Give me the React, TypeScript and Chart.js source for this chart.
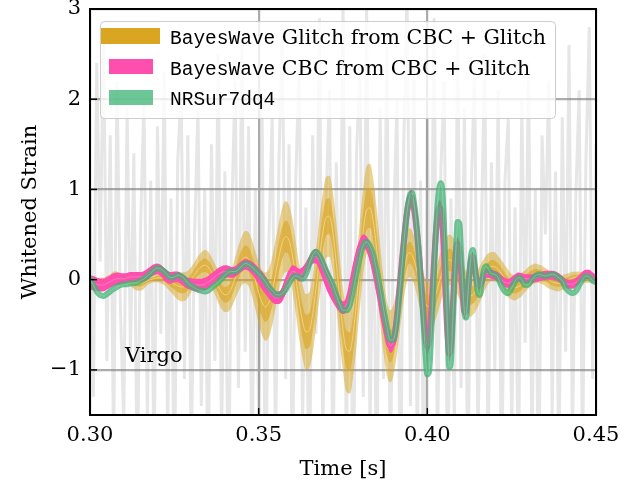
import React, { useEffect, useRef } from 'react';
import { Chart, registerables } from 'chart.js';

Chart.register(...registerables);

// ---------------- data ----------------
// sample times (s) for the reconstructed waveforms
const modelTime = [
  0.300, 0.301, 0.302, 0.303, 0.304, 0.305, 0.306, 0.307, 0.308, 0.309,
  0.310, 0.311, 0.312, 0.313, 0.314, 0.315, 0.316, 0.317, 0.318, 0.319,
  0.320, 0.321, 0.322, 0.323, 0.324, 0.325, 0.326, 0.327, 0.328, 0.329,
  0.330, 0.331, 0.332, 0.333, 0.334, 0.335, 0.336, 0.337, 0.338, 0.339,
  0.340, 0.341, 0.342, 0.343, 0.344, 0.345, 0.346, 0.347, 0.348, 0.349,
  0.350, 0.351, 0.352, 0.353, 0.354, 0.355, 0.356, 0.357, 0.358, 0.359,
  0.360, 0.361, 0.362, 0.363, 0.364, 0.365, 0.366, 0.367, 0.368, 0.369,
  0.370, 0.371, 0.372, 0.373, 0.374, 0.375, 0.376, 0.377, 0.378, 0.379,
  0.380, 0.381, 0.382, 0.383, 0.384, 0.385, 0.386, 0.387, 0.388, 0.389,
  0.390, 0.391, 0.392, 0.393,
  0.3935, 0.394, 0.3945, 0.395, 0.3955, 0.396, 0.3965, 0.397, 0.3975, 0.398,
  0.3985, 0.399, 0.3995, 0.400, 0.4005, 0.401, 0.4015, 0.402, 0.4025, 0.403,
  0.4035, 0.404, 0.4045, 0.405, 0.4055, 0.406, 0.4065, 0.407, 0.4075, 0.408,
  0.4085, 0.409, 0.4095, 0.410, 0.4105, 0.411, 0.4115, 0.412, 0.4125, 0.413,
  0.4135, 0.414, 0.4145, 0.415, 0.4155, 0.416, 0.4165, 0.417, 0.4175, 0.418,
  0.419, 0.420, 0.421, 0.422, 0.423, 0.424, 0.425, 0.426, 0.427, 0.428,
  0.429, 0.430, 0.431, 0.432, 0.433, 0.434, 0.435, 0.436, 0.437, 0.438,
  0.439, 0.440, 0.441, 0.442, 0.443, 0.444, 0.445, 0.446, 0.447, 0.448,
  0.449, 0.450,
];

// BayesWave glitch reconstruction: median and half-widths of the 90% / 50% bands
const glitchStrain = [
  0.0, 0.0, 0.0, 0.0, 0.0, 0.01, 0.02, 0.03, 0.03, 0.02,
  0.01, 0.0, -0.02, -0.03, -0.04, -0.04, -0.03, -0.01, 0.0, 0.01,
  0.02, 0.02, 0.01, -0.01, -0.03, -0.05, -0.07, -0.08, -0.077, -0.05,
  0.0, 0.055, 0.11, 0.145, 0.16, 0.14, 0.085, 0.007, -0.073, -0.136,
  -0.168, -0.155, -0.09, 0.012, 0.122, 0.209, 0.25, 0.226, 0.133, -0.003,
  -0.145, -0.254, -0.30, -0.259, -0.128, 0.06, 0.255, 0.408, 0.478, 0.437,
  0.272, 0.026, -0.241, -0.46, -0.579, -0.56, -0.386, -0.099, 0.229, 0.516,
  0.689, 0.703, 0.523, 0.191, -0.204, -0.557, -0.772, -0.792, -0.602, -0.25,
  0.168, 0.542, 0.77, 0.795, 0.634, 0.332, -0.041, -0.396, -0.649, -0.74,
  -0.663, -0.455, -0.177, 0.087,
  0.19, 0.262, 0.297, 0.296, 0.27, 0.224, 0.16, 0.083, 0.0, -0.083,
  -0.16, -0.224, -0.27, -0.296, -0.299, -0.284, -0.255, -0.212, -0.159, -0.098,
  -0.033, 0.03, 0.09, 0.141, 0.182, 0.208, 0.22, 0.216, 0.199, 0.17,
  0.132, 0.086, 0.035, -0.016, -0.065, -0.108, -0.143, -0.167, -0.179, -0.178,
  -0.168, -0.149, -0.123, -0.091, -0.054, -0.015, 0.024, 0.061, 0.093, 0.119,
  0.148, 0.143, 0.113, 0.064, 0.007, -0.044, -0.079, -0.09, -0.079, -0.051,
  -0.014, 0.024, 0.054, 0.069, 0.067, 0.052, 0.028, 0.002, -0.022, -0.037,
  -0.04, -0.032, -0.017, 0.001, 0.018, 0.028, 0.03, 0.025, 0.015, 0.005,
  0.0, 0.0,
];

const glitchOuterHalfWidth = [
  0.02, 0.02, 0.02, 0.02, 0.02, 0.03, 0.04, 0.06, 0.06, 0.05,
  0.04, 0.04, 0.05, 0.07, 0.08, 0.08, 0.07, 0.05, 0.04, 0.04,
  0.05, 0.06, 0.07, 0.09, 0.11, 0.13, 0.15, 0.16, 0.16, 0.15,
  0.14, 0.14, 0.15, 0.16, 0.17, 0.17, 0.17, 0.17, 0.18, 0.19,
  0.19, 0.2, 0.21, 0.23, 0.25, 0.27, 0.29, 0.3, 0.31, 0.32,
  0.34, 0.36, 0.38, 0.38, 0.38, 0.38, 0.38, 0.39, 0.39, 0.39,
  0.4, 0.4, 0.41, 0.41, 0.42, 0.42, 0.43, 0.43, 0.44, 0.44,
  0.45, 0.45, 0.45, 0.46, 0.46, 0.46, 0.47, 0.47, 0.47, 0.48,
  0.48, 0.48, 0.49, 0.49, 0.47, 0.45, 0.43, 0.42, 0.41, 0.40,
  0.39, 0.37, 0.34, 0.31,
  0.29, 0.28, 0.27, 0.27, 0.27, 0.27, 0.27, 0.27, 0.27, 0.27,
  0.27, 0.27, 0.28, 0.28, 0.28, 0.28, 0.28, 0.28, 0.28, 0.28,
  0.28, 0.28, 0.28, 0.28, 0.28, 0.28, 0.28, 0.28, 0.27, 0.27,
  0.26, 0.26, 0.25, 0.25, 0.24, 0.24, 0.23, 0.23, 0.23, 0.23,
  0.22, 0.22, 0.21, 0.21, 0.2, 0.2, 0.19, 0.18, 0.18, 0.17,
  0.16, 0.16, 0.15, 0.15, 0.15, 0.15, 0.14, 0.14, 0.13, 0.13,
  0.12, 0.12, 0.11, 0.11, 0.1, 0.1, 0.1, 0.1, 0.09, 0.09,
  0.09, 0.08, 0.08, 0.07, 0.07, 0.06, 0.06, 0.05, 0.05, 0.04,
  0.03, 0.03,
];

const glitchInnerHalfWidth = [
  0.012, 0.012, 0.012, 0.012, 0.012, 0.015, 0.02, 0.025, 0.025, 0.02,
  0.018, 0.018, 0.022, 0.03, 0.035, 0.035, 0.03, 0.022, 0.018, 0.018,
  0.022, 0.026, 0.03, 0.04, 0.05, 0.058, 0.066, 0.07, 0.07, 0.066,
  0.062, 0.062, 0.066, 0.07, 0.075, 0.075, 0.075, 0.075, 0.08, 0.085,
  0.085, 0.09, 0.095, 0.1, 0.11, 0.12, 0.13, 0.135, 0.14, 0.145,
  0.15, 0.16, 0.17, 0.17, 0.17, 0.17, 0.17, 0.175, 0.175, 0.175,
  0.18, 0.18, 0.185, 0.185, 0.19, 0.19, 0.195, 0.195, 0.2, 0.2,
  0.2, 0.2, 0.2, 0.21, 0.21, 0.21, 0.21, 0.21, 0.21, 0.215,
  0.215, 0.215, 0.22, 0.22, 0.21, 0.2, 0.195, 0.19, 0.185, 0.18,
  0.175, 0.165, 0.155, 0.14,
  0.13, 0.125, 0.12, 0.12, 0.12, 0.12, 0.12, 0.12, 0.12, 0.12,
  0.12, 0.12, 0.125, 0.125, 0.125, 0.125, 0.125, 0.125, 0.125, 0.125,
  0.125, 0.125, 0.125, 0.125, 0.125, 0.125, 0.125, 0.125, 0.12, 0.12,
  0.115, 0.115, 0.11, 0.11, 0.105, 0.105, 0.1, 0.1, 0.1, 0.1,
  0.1, 0.1, 0.095, 0.095, 0.09, 0.09, 0.085, 0.08, 0.08, 0.075,
  0.07, 0.07, 0.068, 0.068, 0.066, 0.066, 0.063, 0.063, 0.06, 0.06,
  0.055, 0.055, 0.05, 0.05, 0.045, 0.045, 0.045, 0.045, 0.04, 0.04,
  0.04, 0.036, 0.036, 0.032, 0.032, 0.027, 0.027, 0.022, 0.022, 0.018,
  0.014, 0.014,
];

// BayesWave CBC reconstruction: centre and half-width of the band
const cbcStrain = [
  -0.03, -0.04, -0.05, -0.06, -0.06, -0.04, -0.02, 0.0, 0.01, 0.01,
  0.01, 0.02, 0.03, 0.03, 0.03, 0.03, 0.04, 0.06, 0.09, 0.11,
  0.12, 0.10, 0.06, 0.03, 0.02, 0.03, 0.03, 0.01, -0.02, -0.04,
  -0.05, -0.06, -0.06, -0.06, -0.05, -0.03, 0.0, 0.03, 0.06, 0.08,
  0.09, 0.09, 0.08, 0.09, 0.12, 0.15, 0.17, 0.16, 0.13, 0.09,
  0.04, -0.01, -0.06, -0.12, -0.17, -0.20, -0.20, -0.16, -0.07, 0.03,
  0.09, 0.08, 0.05, 0.07, 0.12, 0.19, 0.25, 0.26, 0.20, 0.12,
  0.03, -0.05, -0.13, -0.21, -0.28, -0.31, -0.28, -0.17, 0.02, 0.20,
  0.35, 0.42, 0.40, 0.31, 0.18, 0.0, -0.20, -0.42, -0.60, -0.73,
  -0.68, -0.40, 0.02, 0.42,
  0.60, 0.75, 0.86, 0.92, 0.90, 0.80, 0.66, 0.50, 0.30, 0.06,
  -0.20, -0.45, -0.65, -0.74, -0.68, -0.45, -0.12, 0.20, 0.50, 0.70,
  0.80, 0.78, 0.60, 0.22, -0.25, -0.62, -0.82, -0.72, -0.35, 0.05,
  0.32, 0.40, 0.30, 0.08, -0.18, -0.36, -0.35, -0.15, 0.08, 0.23,
  0.25, 0.14, 0.02, -0.05, -0.06, -0.03, 0.02, 0.06, 0.07, 0.07,
  0.06, 0.05, 0.03, 0.0, -0.03, -0.04, -0.02, 0.01, 0.03, 0.02,
  0.01, 0.01, 0.01, 0.02, 0.03, 0.04, 0.05, 0.05, 0.05, 0.04,
  0.02, -0.01, -0.04, -0.05, -0.05, -0.03, 0.0, 0.04, 0.06, 0.06,
  0.03, 0.0,
];

const cbcHalfWidth = [
  0.08, 0.08, 0.075, 0.07, 0.07, 0.07, 0.07, 0.07, 0.07, 0.065,
  0.06, 0.055, 0.055, 0.055, 0.055, 0.055, 0.055, 0.06, 0.06, 0.06,
  0.06, 0.065, 0.07, 0.07, 0.065, 0.06, 0.06, 0.06, 0.06, 0.06,
  0.065, 0.07, 0.07, 0.07, 0.07, 0.07, 0.07, 0.07, 0.07, 0.07,
  0.07, 0.065, 0.06, 0.06, 0.06, 0.06, 0.06, 0.06, 0.07, 0.08,
  0.09, 0.1, 0.1, 0.09, 0.08, 0.07, 0.07, 0.08, 0.09, 0.08,
  0.07, 0.07, 0.07, 0.07, 0.07, 0.07, 0.07, 0.08, 0.1, 0.12,
  0.13, 0.13, 0.12, 0.1, 0.08, 0.07, 0.08, 0.12, 0.14, 0.13,
  0.1, 0.08, 0.08, 0.1, 0.13, 0.15, 0.15, 0.13, 0.1, 0.08,
  0.08, 0.1, 0.12, 0.12,
  0.1, 0.09, 0.08, 0.08, 0.08, 0.09, 0.1, 0.12, 0.14, 0.14,
  0.13, 0.11, 0.09, 0.08, 0.09, 0.11, 0.12, 0.12, 0.1, 0.09,
  0.08, 0.08, 0.1, 0.12, 0.12, 0.1, 0.08, 0.09, 0.1, 0.1,
  0.08, 0.07, 0.07, 0.08, 0.08, 0.07, 0.07, 0.07, 0.07, 0.06,
  0.06, 0.06, 0.06, 0.05, 0.05, 0.05, 0.05, 0.05, 0.05, 0.05,
  0.05, 0.05, 0.05, 0.05, 0.05, 0.05, 0.05, 0.05, 0.05, 0.05,
  0.05, 0.05, 0.05, 0.05, 0.05, 0.05, 0.05, 0.05, 0.05, 0.05,
  0.05, 0.05, 0.05, 0.05, 0.05, 0.05, 0.05, 0.05, 0.05, 0.05,
  0.05, 0.05,
];

// NRSur7dq4 waveform (centre of band)
const nrStrain = [
  0.01, -0.06, -0.13, -0.17, -0.18, -0.16, -0.13, -0.10, -0.08, -0.06,
  -0.05, -0.05, -0.04, -0.04, -0.03, -0.01, 0.01, 0.04, 0.07, 0.11,
  0.13, 0.12, 0.09, 0.05, 0.02, 0.03, 0.05, 0.04, 0.01, -0.04,
  -0.07, -0.09, -0.11, -0.12, -0.13, -0.12, -0.09, -0.06, -0.03, 0.01,
  0.05, 0.08, 0.09, 0.09, 0.11, 0.15, 0.18, 0.17, 0.14, 0.11,
  0.07, 0.03, -0.02, -0.08, -0.12, -0.16, -0.17, -0.15, -0.11, -0.04,
  0.02, 0.04, 0.03, 0.01, 0.06, 0.17, 0.27, 0.31, 0.27, 0.19,
  0.10, 0.02, -0.06, -0.17, -0.27, -0.34, -0.34, -0.28, -0.12, 0.07,
  0.25, 0.38, 0.42, 0.37, 0.27, 0.10, -0.10, -0.32, -0.52, -0.67,
  -0.66, -0.45, -0.05, 0.38,
  0.58, 0.76, 0.88, 0.95, 0.96, 0.86, 0.72, 0.52, 0.28, 0.02,
  -0.25, -0.55, -0.85, -1.05, -1.02, -0.72, -0.33, 0.10, 0.50, 0.82,
  1.00, 1.07, 0.95, 0.55, 0.02, -0.52, -0.97, -0.90, -0.50, -0.05,
  0.35, 0.64, 0.62, 0.28, -0.05, -0.35, -0.42, -0.18, 0.08, 0.28,
  0.33, 0.18, 0.0, -0.14, -0.17, -0.07, 0.06, 0.13, 0.15, 0.12,
  0.07, 0.06, 0.02, -0.07, -0.13, -0.15, -0.09, -0.02, 0.02, 0.0,
  -0.06, -0.05, 0.0, 0.04, 0.06, 0.05, 0.04, 0.05, 0.06, 0.05,
  0.02, -0.01, -0.09, -0.13, -0.15, -0.13, -0.06, 0.0, 0.04, 0.03,
  -0.01, -0.03,
];

// whitened Virgo data, 1 ms samples from 0.300 s
const dataStart = 0.3;
const dataStep = 0.001;
const virgoData = [
  1.0, -1.3, 2.4, 0.2, 2.8, -0.9, 1.6, -1.9, 2.2, -0.3,
  -1.6, 1.9, -0.8, 1.4, -2.3, 0.6, 2.0, -1.5, 1.1, -2.1,
  1.7, -0.6, 2.3, -1.7, 0.9, -2.5, 1.3, 2.1, -1.1, 1.6,
  -2.0, 0.5, 1.9, -1.4, 1.0, -2.4, 1.5, -0.9, 2.5, -1.8,
  1.2, -2.7, 0.7, 2.2, -1.2, 2.6, -0.8, 1.7, -2.2, 1.0,
  -1.5, 2.0, -2.6, 0.4, 1.8, -1.9, 1.3, 2.8, -1.1, 1.5,
  -2.3, 1.1, 2.4, -1.6, 0.8, -2.8, 1.6, -0.6, 2.9, -1.8,
  0.9, 2.1, -2.4, 1.3, -1.0, 3.1, -2.1, 1.7, -2.9, 1.4,
  2.3, -1.3, 3.0, -1.7, 1.0, -2.5, 1.9, -1.1, 2.7, -2.2,
  0.6, 2.0, -2.8, 1.5, 3.2, -1.4, 2.4, -1.9, 1.1, -2.7,
  1.8, -0.9, 2.9, -2.0, 1.2, 2.2, -2.5, 0.9, -1.6, 2.7,
  -1.2, 1.9, -2.4, 1.0, 2.3, -1.8, 0.5, 2.5, -2.1, 1.3,
  -1.0, 2.1, -2.6, 1.1, 1.8, -1.7, 0.8, -2.3, 2.0, -0.7,
  2.4, -1.9, 1.0, -2.7, 1.6, 0.5, 2.2, -1.5, 1.2, -2.2,
  1.8, -0.8, 2.6, -1.8, 0.9, 2.1, -2.0, 1.3, 2.8, -1.1,
  1.5,
];

const xTickValues = [0.3, 0.35, 0.4, 0.45];
const yTickValues = [-1, 0, 1, 2, 3];
const xRange = [0.3, 0.45];
const yRange = [-1.5, 3];

const legendEntries = [
  { mono: 'BayesWave', serif: ' Glitch from CBC + Glitch', color: '#DAA520' },
  { mono: 'BayesWave', serif: ' CBC from CBC + Glitch', color: '#ff4fae' },
  { mono: 'NRSur7dq4', serif: '', color: 'rgba(60,179,113,0.75)' },
];

const xTitle = 'Time [s]';
const yTitle = 'Whitened Strain';
const detectorLabel = 'Virgo';

// ---------------- styling ----------------
const SERIF = "'DejaVu Serif', 'Liberation Serif', serif";
const MONO = "'Liberation Mono', 'DejaVu Sans Mono', monospace";
const W = 639;
const H = 487;
const AREA = { left: 90, right: 596, top: 9, bottom: 415 };

const GOLD_OUTER = 'rgba(218,165,32,0.5)';
const GOLD_INNER = 'rgba(218,165,32,0.62)';
const PINK = '#ff4fae';
const GREEN = 'rgba(60,179,113,0.75)';
const NONE = 'rgba(0,0,0,0)';

function series(ys: number[], offset?: number[], sign = 0) {
  return ys.map((y, i) => ({ x: modelTime[i], y: y + (offset ? sign * offset[i] : 0) }));
}

const bandStyle = (fillColor: string, fillTarget: string | boolean, order: number) => ({
  borderColor: NONE,
  borderWidth: 0,
  backgroundColor: fillColor,
  fill: fillTarget,
  pointRadius: 0,
  cubicInterpolationMode: 'monotone' as const,
  order,
});

const lineStyle = (color: string, width: number, order: number) => ({
  borderColor: color,
  borderWidth: width,
  pointRadius: 0,
  fill: false,
  cubicInterpolationMode: 'monotone' as const,
  borderJoinStyle: 'round' as const,
  borderCapStyle: 'round' as const,
  order,
});

const decorPlugin = {
  id: 'decor',
  afterDatasetsDraw(chart: any) {
    const { ctx, chartArea: a, scales } = chart;
    ctx.save();
    ctx.strokeStyle = '#000';
    ctx.lineWidth = 1.4;
    for (const v of yTickValues) {
      const y = scales.y.getPixelForValue(v);
      ctx.beginPath();
      ctx.moveTo(a.left, y);
      ctx.lineTo(a.left + 7, y);
      ctx.stroke();
    }
    for (const v of xTickValues) {
      const x = scales.x.getPixelForValue(v);
      ctx.beginPath();
      ctx.moveTo(x, a.bottom);
      ctx.lineTo(x, a.bottom - 7);
      ctx.stroke();
    }
    ctx.lineWidth = 2;
    ctx.strokeRect(a.left, a.top, a.right - a.left, a.bottom - a.top);
    ctx.restore();
  },
  afterDraw(chart: any) {
    const { ctx, chartArea: a } = chart;
    ctx.save();
    ctx.fillStyle = '#000';
    ctx.font = `21px ${SERIF}`;
    ctx.textAlign = 'left';
    ctx.textBaseline = 'alphabetic';
    ctx.fillText(detectorLabel, a.left + 35, 362);
    ctx.textAlign = 'center';
    ctx.fillText(xTitle, (a.left + a.right) / 2, 475);
    ctx.save();
    ctx.translate(36, (a.top + a.bottom) / 2);
    ctx.rotate(-Math.PI / 2);
    ctx.fillText(yTitle, 0, 0);
    ctx.restore();

    // legend
    const bx = 100, by = 21, bw = 455, bh = 97;
    ctx.beginPath();
    if (ctx.roundRect) ctx.roundRect(bx + 0.5, by + 0.5, bw, bh, 4);
    else ctx.rect(bx + 0.5, by + 0.5, bw, bh);
    ctx.fillStyle = 'rgba(255,255,255,0.8)';
    ctx.fill();
    ctx.strokeStyle = 'rgba(200,200,200,0.9)';
    ctx.lineWidth = 1;
    ctx.stroke();

    const baselines = [44, 75, 105];
    const patches = [
      [101, 28, 59, 16],
      [109, 59, 44, 15],
      [109, 90, 44, 15],
    ];
    legendEntries.forEach((e, i) => {
      const [px, py, pw, ph] = patches[i];
      ctx.fillStyle = e.color;
      ctx.fillRect(px, py, pw, ph);
      ctx.fillStyle = '#000';
      ctx.textAlign = 'left';
      ctx.font = `19.5px ${MONO}`;
      ctx.fillText(e.mono, 170, baselines[i]);
      const mw = ctx.measureText(e.mono).width;
      if (e.serif) {
        ctx.font = `20.5px ${SERIF}`;
        ctx.fillText(e.serif, 170 + mw, baselines[i]);
      }
    });
    ctx.restore();
  },
};

export default function App() {
  const canvasRef = useRef<HTMLCanvasElement | null>(null);

  useEffect(() => {
    const canvas = canvasRef.current;
    if (!canvas) return;

    const dataPoints = virgoData.map((y, i) => ({ x: +(dataStart + i * dataStep).toFixed(4), y }));

    const datasets: any[] = [
      {
        label: 'Virgo data',
        data: dataPoints,
        borderColor: 'rgba(128,128,128,0.2)',
        borderWidth: 3,
        pointRadius: 0,
        fill: false,
        tension: 0,
        order: 20,
      },
      { label: 'glitch 90 hi', data: series(glitchStrain, glitchOuterHalfWidth, 1), ...bandStyle(GOLD_OUTER, '+1', 19) },
      { label: 'glitch 90 lo', data: series(glitchStrain, glitchOuterHalfWidth, -1), ...bandStyle(NONE, false, 19.5) },
      { label: 'glitch 50 hi', data: series(glitchStrain, glitchInnerHalfWidth, 1), ...bandStyle(GOLD_INNER, '+1', 17) },
      { label: 'glitch 50 lo', data: series(glitchStrain, glitchInnerHalfWidth, -1), ...bandStyle(NONE, false, 17.5) },
      { label: 'glitch median', data: series(glitchStrain), ...lineStyle('rgba(242,212,135,0.9)', 1, 16) },
      { label: 'cbc hi', data: series(cbcStrain, cbcHalfWidth, 1), ...bandStyle(PINK, '+1', 15) },
      { label: 'cbc lo', data: series(cbcStrain, cbcHalfWidth, -1), ...bandStyle(NONE, false, 15.5) },
      { label: 'cbc core', data: series(cbcStrain), ...lineStyle(PINK, 6, 14.8) },
      { label: 'cbc median', data: series(cbcStrain), ...lineStyle('rgba(255,150,200,0.6)', 1, 14.5) },
      { label: 'NRSur7dq4', data: series(nrStrain), ...lineStyle(GREEN, 6, 13) },
      { label: 'nr median', data: series(nrStrain), ...lineStyle('rgba(165,205,182,0.55)', 1, 12) },
    ];

    const chart = new Chart(canvas, {
      type: 'line',
      data: { datasets },
      plugins: [decorPlugin],
      options: {
        animation: false,
        responsive: false,
        devicePixelRatio: 1,
        events: [],
        layout: {
          autoPadding: false,
          padding: { left: 0, top: AREA.top, right: W - AREA.right, bottom: 0 },
        },
        plugins: {
          legend: { display: false },
          tooltip: { enabled: false },
          filler: { propagate: false },
        },
        scales: {
          x: {
            type: 'linear',
            min: xRange[0],
            max: xRange[1],
            afterBuildTicks: (s: any) => {
              s.ticks = xTickValues.map((v) => ({ value: v }));
            },
            afterFit: (s: any) => {
              s.height = H - AREA.bottom;
              s.paddingLeft = 0;
              s.paddingRight = 0;
            },
            ticks: {
              autoSkip: false,
              maxRotation: 0,
              padding: 8,
              color: '#000',
              font: { family: SERIF, size: 21 },
              callback: (v: any) => Number(v).toFixed(2),
            },
            grid: { color: '#ababab', lineWidth: 2.2, drawTicks: false },
            border: { display: false },
          },
          y: {
            type: 'linear',
            min: yRange[0],
            max: yRange[1],
            afterBuildTicks: (s: any) => {
              s.ticks = yTickValues.map((v) => ({ value: v }));
            },
            afterFit: (s: any) => {
              s.width = AREA.left;
              s.paddingTop = 0;
              s.paddingBottom = 0;
            },
            ticks: {
              padding: 9,
              color: '#000',
              font: { family: SERIF, size: 21 },
              callback: (v: any) => (Number(v) < 0 ? '\u2212' + Math.abs(Number(v)) : String(v)),
            },
            grid: { color: '#ababab', lineWidth: 2.2, drawTicks: false },
            border: { display: false },
          },
        },
      } as any,
    });

    return () => chart.destroy();
  }, []);

  return (
    <div style={{ position: 'fixed', left: 0, top: 0, width: W, height: H, background: '#fff' }}>
      <canvas ref={canvasRef} width={W} height={H} style={{ width: W, height: H, display: 'block' }} />
    </div>
  );
}
